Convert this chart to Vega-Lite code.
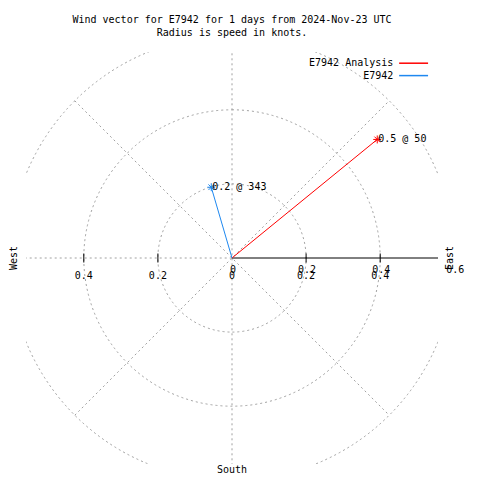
{
  "$schema": "https://vega.github.io/schema/vega-lite/v6.json",
  "width": 412,
  "height": 412,
  "autosize": {"type": "none"},
  "padding": {"left": 26, "top": 52, "right": 42, "bottom": 16},
  "background": "white",
  "title": {
    "text": ["Wind vector for E7942 for 1 days from 2024-Nov-23 UTC", "Radius is speed in knots."],
    "font": "DejaVu Sans Mono",
    "fontSize": 10,
    "fontWeight": "normal",
    "lineHeight": 13,
    "anchor": "middle",
    "offset": 14,
    "color": "black"
  },
  "config": {"view": {"stroke": null}, "font": "DejaVu Sans Mono"},
  "datasets": {
    "rings": [{"r": 0.2}, {"r": 0.4}, {"r": 0.6}],
    "spokes": [
      {"x": 0, "y": -0.6, "x2": 0, "y2": 0.6},
      {"x": -0.6, "y": 0, "x2": 0, "y2": 0},
      {"x": -0.4243, "y": -0.4243, "x2": 0.4243, "y2": 0.4243},
      {"x": -0.4243, "y": 0.4243, "x2": 0.4243, "y2": -0.4243}
    ],
    "axisline": [{"x": 0, "y": 0, "x2": 0.6, "y2": 0}],
    "ticks": [{"v": -0.4}, {"v": -0.2}, {"v": 0.2}, {"v": 0.4}],
    "labelsA": [
      {"v": -0.4, "label": "0.4"},
      {"v": -0.2, "label": "0.2"},
      {"v": 0, "label": "0"},
      {"v": 0.2, "label": "0.2"},
      {"v": 0.4, "label": "0.4"}
    ],
    "labelsB": [
      {"v": 0, "label": "0"},
      {"v": 0.2, "label": "0.2"},
      {"v": 0.4, "label": "0.4"},
      {"v": 0.6, "label": "0.6"}
    ],
    "compass": [
      {"x": -0.588, "y": 0, "label": "West"},
      {"x": 0.588, "y": 0, "label": "East"}
    ],
    "south": [{"x": 0, "y": -0.572, "label": "South"}],
    "wind": [
      {"series": "E7942 Analysis", "u": 0.392, "v": 0.320, "label": "0.5 @ 50"},
      {"series": "E7942", "u": -0.056, "v": 0.191, "label": "0.2 @ 343"}
    ]
  },
  "layer": [
    {
      "data": {"name": "rings"},
      "mark": {"type": "arc", "theta": 0, "theta2": 6.2832, "filled": false, "stroke": "#a0a0a0", "strokeDash": [2, 3], "strokeWidth": 1, "clip": true},
      "encoding": {
        "x": {"datum": 0, "type": "quantitative", "scale": {"domain": [-0.556, 0.556], "nice": false, "zero": false}, "axis": null},
        "y": {"datum": 0, "type": "quantitative", "scale": {"domain": [-0.556, 0.556], "nice": false, "zero": false}, "axis": null},
        "radius": {"field": "r", "type": "quantitative", "stack": null, "scale": {"type": "linear", "domain": [0, 0.556], "range": [0, 206], "zero": true}}
      }
    },
    {
      "data": {"name": "spokes"},
      "mark": {"type": "rule", "stroke": "#a0a0a0", "strokeDash": [2, 3], "strokeWidth": 1, "clip": true},
      "encoding": {
        "x": {"field": "x", "type": "quantitative"},
        "y": {"field": "y", "type": "quantitative"},
        "x2": {"field": "x2"},
        "y2": {"field": "y2"}
      }
    },
    {
      "data": {"name": "axisline"},
      "mark": {"type": "rule", "stroke": "black", "strokeWidth": 1, "clip": true},
      "encoding": {
        "x": {"field": "x", "type": "quantitative"},
        "y": {"field": "y", "type": "quantitative"},
        "x2": {"field": "x2"},
        "y2": {"field": "y2"}
      }
    },
    {
      "data": {"name": "ticks"},
      "mark": {"type": "tick", "orient": "vertical", "color": "black", "size": 9, "thickness": 1, "opacity": 1},
      "encoding": {
        "x": {"field": "v", "type": "quantitative"},
        "y": {"datum": 0, "type": "quantitative"}
      }
    },
    {
      "data": {"name": "labelsA"},
      "mark": {"type": "text", "font": "DejaVu Sans Mono", "fontSize": 10, "color": "black", "align": "center", "baseline": "middle", "dy": 18},
      "encoding": {
        "x": {"field": "v", "type": "quantitative"},
        "y": {"datum": 0, "type": "quantitative"},
        "text": {"field": "label"}
      }
    },
    {
      "data": {"name": "labelsB"},
      "mark": {"type": "text", "font": "DejaVu Sans Mono", "fontSize": 10, "color": "black", "align": "center", "baseline": "middle", "dy": 12, "dx": 1},
      "encoding": {
        "x": {"field": "v", "type": "quantitative"},
        "y": {"datum": 0, "type": "quantitative"},
        "text": {"field": "label"}
      }
    },
    {
      "data": {"name": "compass"},
      "mark": {"type": "text", "font": "DejaVu Sans Mono", "fontSize": 10, "color": "black", "align": "center", "baseline": "middle", "angle": 270},
      "encoding": {
        "x": {"field": "x", "type": "quantitative"},
        "y": {"field": "y", "type": "quantitative"},
        "text": {"field": "label"}
      }
    },
    {
      "data": {"name": "south"},
      "mark": {"type": "text", "font": "DejaVu Sans Mono", "fontSize": 10, "color": "black", "align": "center", "baseline": "middle"},
      "encoding": {
        "x": {"field": "x", "type": "quantitative"},
        "y": {"field": "y", "type": "quantitative"},
        "text": {"field": "label"}
      }
    },
    {
      "data": {"name": "wind"},
      "mark": {"type": "rule", "strokeWidth": 1},
      "encoding": {
        "x": {"field": "u", "type": "quantitative"},
        "y": {"field": "v", "type": "quantitative"},
        "x2": {"datum": 0},
        "y2": {"datum": 0},
        "color": {
          "field": "series",
          "type": "nominal",
          "scale": {"domain": ["E7942 Analysis", "E7942"], "range": ["#ff0000", "#1e88f0"]},
          "legend": {
            "title": null,
            "orient": "none",
            "legendX": 381.6,
            "legendY": 5.2,
            "symbolType": "M-3,0L3,0",
            "symbolSize": 93,
            "symbolStrokeWidth": 1.5,
            "symbolOffset": 0,
            "labelAlign": "right",
            "labelOffset": -26.3,
            "labelFont": "DejaVu Sans Mono",
            "labelFontSize": 10,
            "labelColor": "black",
            "rowPadding": 1.4,
            "padding": 0
          }
        }
      }
    },
    {
      "data": {"name": "wind"},
      "mark": {"type": "point", "shape": "M-1,0L1,0M0,-1L0,1M-0.7,-0.7L0.7,0.7M-0.7,0.7L0.7,-0.7", "size": 64, "filled": false, "strokeWidth": 1, "opacity": 1},
      "encoding": {
        "x": {"field": "u", "type": "quantitative"},
        "y": {"field": "v", "type": "quantitative"},
        "color": {"field": "series", "type": "nominal", "legend": null}
      }
    },
    {
      "data": {"name": "wind"},
      "mark": {"type": "text", "font": "DejaVu Sans Mono", "fontSize": 10, "color": "black", "align": "left", "baseline": "middle", "dx": 1},
      "encoding": {
        "x": {"field": "u", "type": "quantitative"},
        "y": {"field": "v", "type": "quantitative"},
        "text": {"field": "label"}
      }
    }
  ]
}
